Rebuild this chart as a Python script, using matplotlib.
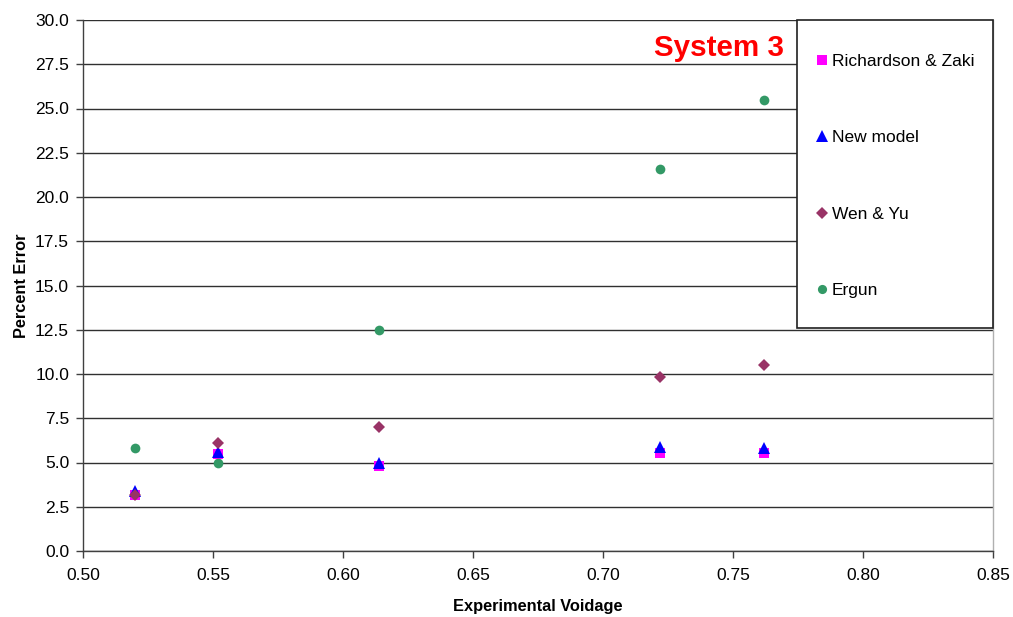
import matplotlib
matplotlib.use("Agg")
import matplotlib.pyplot as plt
from matplotlib.patches import Rectangle
from matplotlib.lines import Line2D

plt.rcParams['font.family'] = ['Liberation Sans', 'DejaVu Sans']

# Experimental voidage for each run
voidage = [0.520, 0.552, 0.614, 0.722, 0.762]

# Percent error of each correlation
richardson_zaki = [3.15, 5.50, 4.78, 5.56, 5.52]
new_model = [3.38, 5.62, 4.98, 5.86, 5.80]
wen_yu = [3.18, 6.10, 7.00, 9.82, 10.50]
ergun = [5.82, 5.00, 12.47, 21.58, 25.46]

series_names = ["Richardson & Zaki", "New model", "Wen & Yu", "Ergun"]

yticks = [0.0, 2.5, 5.0, 7.5, 10.0, 12.5, 15.0, 17.5, 20.0, 22.5, 25.0, 27.5, 30.0]
xticks = [0.50, 0.55, 0.60, 0.65, 0.70, 0.75, 0.80, 0.85]

W, H = 1013, 617
fig = plt.figure(figsize=(W / 100, H / 100), dpi=100)
ax = fig.add_axes([83 / W, (H - 551) / H, 910 / W, 531 / H])

styles = [
    dict(marker='s', color='#FF00FF', ms=7.3, lms=7.0),
    dict(marker='^', color='#0000FF', ms=8.5, lms=8.0),
    dict(marker='D', color='#993366', ms=6.0, lms=5.8),
    dict(marker='o', color='#339966', ms=7.0, lms=6.6),
]
data = [richardson_zaki, new_model, wen_yu, ergun]

for vals, st in zip(data, styles):
    ax.plot(voidage, vals, linestyle='none', marker=st['marker'],
            color=st['color'], markersize=st['ms'], markeredgewidth=0, zorder=3)

ax.set_xlim(0.50, 0.85)
ax.set_ylim(0.0, 30.0)
ax.set_xticks(xticks)
ax.set_xticklabels([f"{v:.2f}" for v in xticks])
ax.set_yticks(yticks)
ax.set_yticklabels([f"{v:.1f}" for v in yticks])
ax.tick_params(axis='both', labelsize=12.5, length=5, width=1, color='#404040',
               direction='out')
ax.tick_params(axis='y', pad=5)
ax.tick_params(axis='x', pad=7)

ax.yaxis.grid(True, color='#303030', linewidth=1.0, zorder=0)
ax.set_axisbelow(True)

for side in ('left', 'bottom'):
    ax.spines[side].set_color('#404040')
    ax.spines[side].set_linewidth(1.0)
ax.spines['top'].set_visible(False)
ax.spines['right'].set_color('#b0b0b0')
ax.spines['right'].set_linewidth(1.0)

ax.set_xlabel("Experimental Voidage", fontsize=11.8, fontweight='bold')
ax.set_ylabel("Percent Error", fontsize=11.8, fontweight='bold')
ax.xaxis.set_label_coords(0.5, -(606 - 551) / 531, transform=ax.transAxes)
ax.yaxis.set_label_coords(-(83 - 21) / 910, 0.5, transform=ax.transAxes)
ax.xaxis.label.set_va('center')
ax.yaxis.label.set_va('center')

ax.text(0.6985, 0.9475, "System 3", transform=ax.transAxes, color='#FF0000',
        fontsize=21.3, fontweight='bold', ha='center', va='center', zorder=5)

# Legend box on the right
bx0 = (797 - 83) / 910
by0 = (551 - 328) / 531
box = Rectangle((bx0, by0), 1 - bx0, 1 - by0, transform=ax.transAxes,
                facecolor='white', edgecolor='#202020', linewidth=1.2, zorder=4,
                clip_on=False)
ax.add_patch(box)

handles = [Line2D([], [], linestyle='none', marker=st['marker'], color=st['color'],
                  markersize=st['lms'], markeredgewidth=0) for st in styles]
leg = ax.legend(handles, series_names, loc='upper left',
                bbox_to_anchor=((816 - 83) / 910, 1 - 34 / 531),
                frameon=False, fontsize=12.5, handlelength=0.7, handletextpad=0.2,
                labelspacing=3.52, borderpad=0, borderaxespad=0)
leg.set_zorder(6)

fig.savefig("out.png", dpi=100)
